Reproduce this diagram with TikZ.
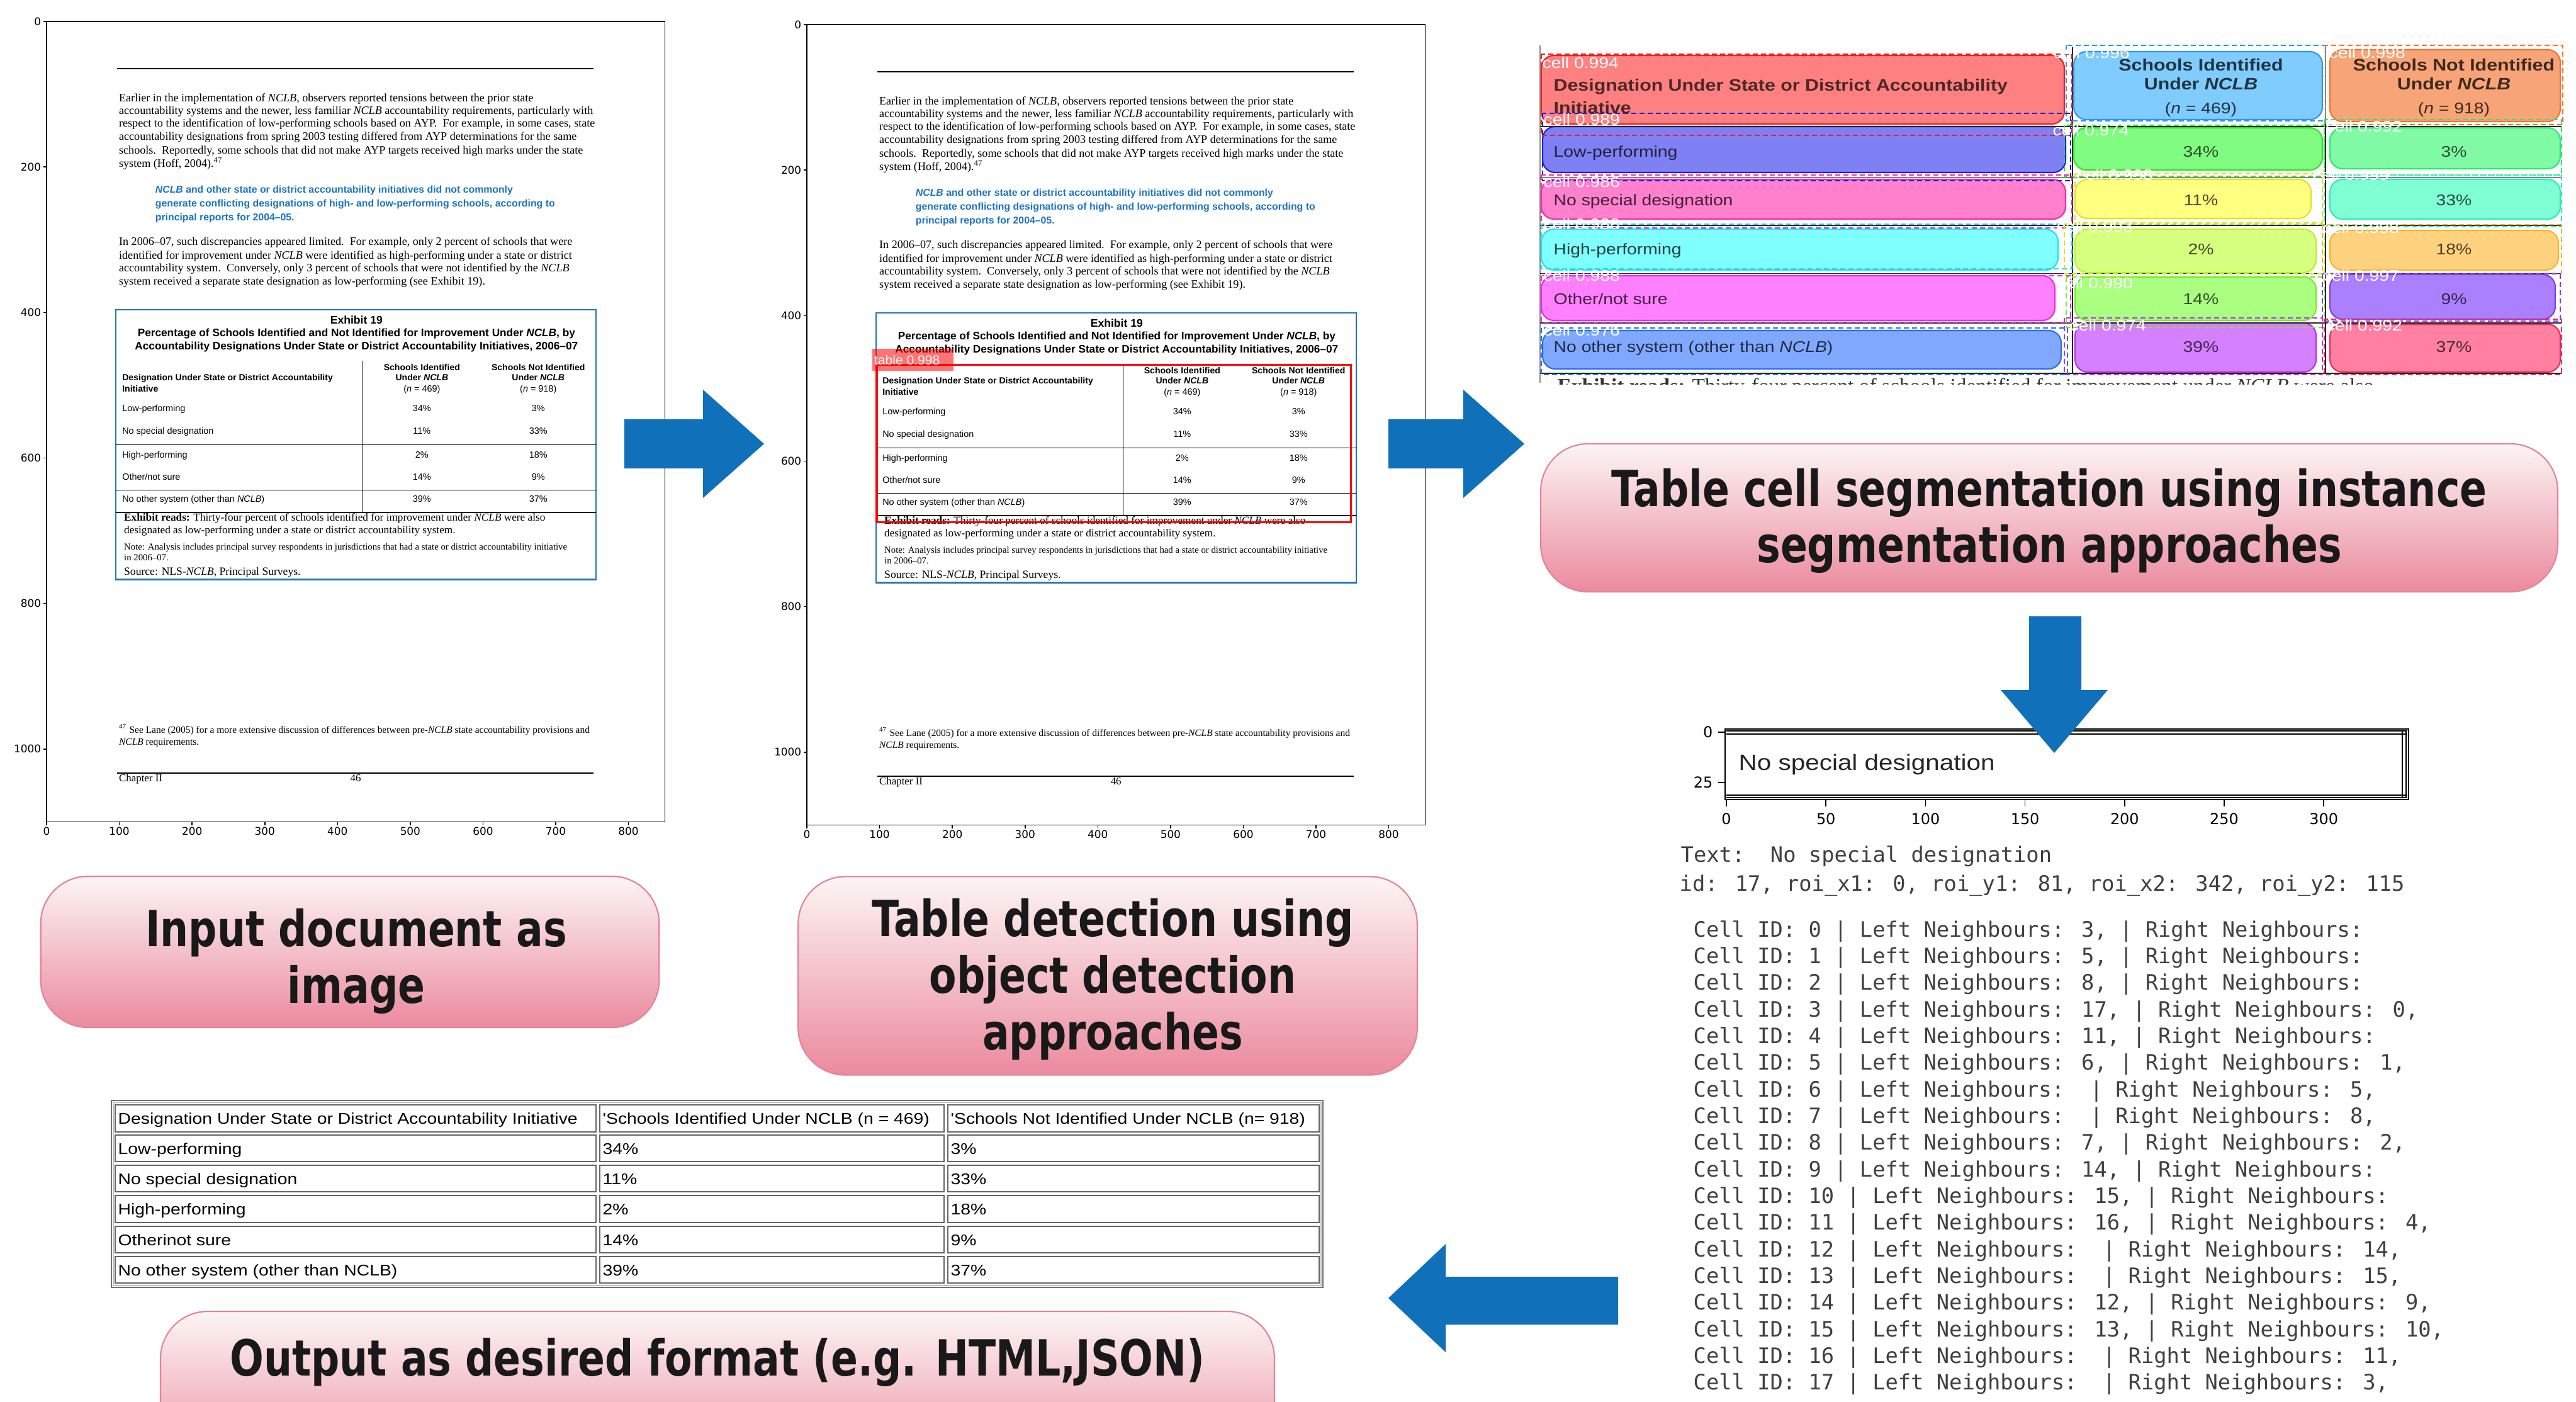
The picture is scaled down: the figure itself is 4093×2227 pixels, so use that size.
\documentclass[tikz,border=0pt]{standalone}
\usepackage{fontspec}
\setmainfont{Liberation Serif}
\newfontfamily\capfont[FakeStretch=0.80]{DejaVu Sans}
\newfontfamily\sansf{Liberation Sans}
\newfontfamily\wsans[FakeStretch=1.15]{Liberation Sans}
\newfontfamily\monof{DejaVu Sans Mono}
\newfontfamily\tickf{DejaVu Sans}
\definecolor{arrowblue}{RGB}{17,112,186}
\definecolor{capTop}{RGB}{252,245,244}
\definecolor{capBot}{RGB}{235,138,158}
\definecolor{capEdge}{RGB}{230,130,152}
\definecolor{exblue}{RGB}{36,118,184}
\definecolor{txtblue}{RGB}{28,117,196}
\definecolor{sHa}{RGB}{255,128,128} \definecolor{eHa}{RGB}{240,30,30}
\definecolor{sHb}{RGB}{128,204,255} \definecolor{eHb}{RGB}{40,150,255}
\definecolor{sHc}{RGB}{247,165,120} \definecolor{eHc}{RGB}{255,110,40}
\definecolor{sAa}{RGB}{128,128,245} \definecolor{eAa}{RGB}{30,30,230}
\definecolor{sAb}{RGB}{128,252,128} \definecolor{eAb}{RGB}{40,230,40}
\definecolor{sAc}{RGB}{128,250,165} \definecolor{eAc}{RGB}{40,235,110}
\definecolor{sBa}{RGB}{255,128,205} \definecolor{eBa}{RGB}{250,40,170}
\definecolor{sBb}{RGB}{255,255,128} \definecolor{eBb}{RGB}{225,225,30}
\definecolor{sBc}{RGB}{128,255,212} \definecolor{eBc}{RGB}{40,240,180}
\definecolor{sCa}{RGB}{128,255,255} \definecolor{eCa}{RGB}{30,225,240}
\definecolor{sCb}{RGB}{215,255,128} \definecolor{eCb}{RGB}{190,240,40}
\definecolor{sCc}{RGB}{255,210,128} \definecolor{eCc}{RGB}{250,180,40}
\definecolor{sDa}{RGB}{255,128,255} \definecolor{eDa}{RGB}{240,40,240}
\definecolor{sDb}{RGB}{170,255,128} \definecolor{eDb}{RGB}{120,235,40}
\definecolor{sDc}{RGB}{170,128,255} \definecolor{eDc}{RGB}{130,60,240}
\definecolor{sEa}{RGB}{128,168,255} \definecolor{eEa}{RGB}{40,110,240}
\definecolor{sEb}{RGB}{212,128,255} \definecolor{eEb}{RGB}{180,50,240}
\definecolor{sEc}{RGB}{255,128,160} \definecolor{eEc}{RGB}{240,40,90}
\tikzset{
  capbox/.style={draw=capEdge, line width=0.6pt, rounded corners=0.75cm, top color=capTop, bottom color=capBot, inner sep=0},
  captext/.style={anchor=base, inner sep=0, font=\capfont\bfseries\fontsize{22.5}{25.6}\selectfont, text=black!90},
  bigarrow/.style={fill=arrowblue, draw=none},
  axisline/.style={line width=0.45pt, black},
  ticklab/.style={inner sep=0, font=\tickf\fontsize{4.8}{5}\selectfont},
  pline/.style={anchor=base west, inner sep=0, font=\fontsize{5.15}{6}\selectfont},
  bline/.style={anchor=base west, inner sep=0, text=txtblue, font=\sansf\bfseries\fontsize{4.5}{5}\selectfont},
  exline/.style={anchor=base, inner sep=0, font=\sansf\bfseries\fontsize{4.9}{5}\selectfont},
  thead/.style={inner sep=0, font=\sansf\bfseries\fontsize{4}{5}\selectfont},
  tline/.style={inner sep=0, font=\sansf\fontsize{4.1}{5}\selectfont},
  nline/.style={anchor=base west, inner sep=0, font=\fontsize{4.9}{5}\selectfont},
  segr/.style={inner sep=0, font=\wsans\fontsize{7}{8}\selectfont},
  segb/.style={inner sep=0, font=\wsans\bfseries\fontsize{7.5}{9}\selectfont},
  seglab/.style={anchor=base west, inner sep=0, text=white, font=\wsans\fontsize{7}{8}\selectfont},
  ptick/.style={inner sep=0, font=\tickf\fontsize{6.8}{7}\selectfont},
  monoline/.style={anchor=base west, inner sep=0, text=black!75, font=\monof\fontsize{9.6}{11}\selectfont},
  tcell/.style={draw=black!60, line width=0.6pt},
  ttext/.style={anchor=base west, inner sep=0, font=\wsans\fontsize{7}{8}\selectfont},
}
\newcommand\docpage[1]{%
  \draw[axisline] (0,0) rectangle (850,1100);
  \foreach \tk in {0,100,...,800}{\draw[axisline] (\tk,1100) -- (\tk,1104.5); \node[ticklab,anchor=north] (#1x\tk) at (\tk,1107) {\tk};}
  \foreach \tk in {0,200,...,1000}{\draw[axisline] (0,\tk) -- (-4.5,\tk); \node[ticklab,anchor=east] (#1y\tk) at (-7,\tk) {\tk};}
  \draw[line width=0.4pt] (97,65) -- (752,65);
  \node[pline] (#1pa) at (99,110) {Earlier in the implementation of \textit{NCLB}, observers reported tensions between the prior state};
  \node[pline] (#1pb) at (99,128) {accountability systems and the newer, less familiar \textit{NCLB} accountability requirements, particularly with};
  \node[pline] (#1pc) at (99,145) {respect to the identification of low-performing schools based on AYP.\ \ For example, in some cases, state};
  \node[pline] (#1pd) at (99,163) {accountability designations from spring 2003 testing differed from AYP determinations for the same};
  \node[pline] (#1pe) at (99,182) {schools.\ \ Reportedly, some schools that did not make AYP targets received high marks under the state};
  \node[pline] (#1pf) at (99,200) {system (Hoff, 2004).\textsuperscript{47}};
  \node[bline] (#1ba) at (149,236) {\textit{NCLB} and other state or district accountability initiatives did not commonly};
  \node[bline] (#1bb) at (149,255) {generate conflicting designations of high- and low-performing schools, according to};
  \node[bline] (#1bc) at (149,274) {principal reports for 2004–05.};
  \node[pline] (#1qa) at (99,308) {In 2006–07, such discrepancies appeared limited.\ \ For example, only 2 percent of schools that were};
  \node[pline] (#1qb) at (99,327) {identified for improvement under \textit{NCLB} were identified as high-performing under a state or district};
  \node[pline] (#1qc) at (99,344) {accountability system.\ \ Conversely, only 3 percent of schools that were not identified by the \textit{NCLB}};
  \node[pline] (#1qd) at (99,362) {system received a separate state designation as low-performing (see Exhibit 19).};
  \draw[exblue, line width=0.6pt] (95.5,396) rectangle (755,767);
  \node[exline, font=\sansf\bfseries\fontsize{5}{5}\selectfont] (#1ea) at (426,416) {Exhibit 19};
  \node[exline] (#1eb) at (426,433) {Percentage of Schools Identified and Not Identified for Improvement Under \textit{NCLB}, by};
  \node[exline] (#1ec) at (426,451) {Accountability Designations Under State or District Accountability Initiatives, 2006–07};
  \draw[line width=0.35pt] (435,466) -- (435,675);
  \draw[line width=0.35pt] (95.5,582) -- (755,582);
  \draw[line width=0.35pt] (95.5,644) -- (755,644);
  \draw[line width=0.45pt] (95.5,675) -- (755,675);
  \node[thead,anchor=base west] (#1ha) at (103.5,494) {Designation Under State or District Accountability};
  \node[thead,anchor=base west] (#1hb) at (103.5,509) {Initiative};
  \node[thead,anchor=base] (#1hc) at (516,480) {Schools Identified};
  \node[thead,anchor=base] (#1hd) at (516,494) {Under \textit{NCLB}};
  \node[tline,anchor=base] (#1he) at (516,509) {(\textit{n} = 469)};
  \node[thead,anchor=base] (#1hf) at (676,480) {Schools Not Identified};
  \node[thead,anchor=base] (#1hg) at (676,494) {Under \textit{NCLB}};
  \node[tline,anchor=base] (#1hh) at (676,509) {(\textit{n} = 918)};
  \node[tline,anchor=base west] (#1ra) at (103.5,536) {Low-performing};
  \node[tline,anchor=base west] (#1rb) at (103.5,567) {No special designation};
  \node[tline,anchor=base west] (#1rc) at (103.5,600) {High-performing};
  \node[tline,anchor=base west] (#1rd) at (103.5,630) {Other/not sure};
  \node[tline,anchor=base west] (#1re) at (103.5,661) {No other system (other than \textit{NCLB})};
  \node[tline,anchor=base] (#1va) at (516,536) {34\%};
  \node[tline,anchor=base] (#1vb) at (516,567) {11\%};
  \node[tline,anchor=base] (#1vc) at (516,600) {2\%};
  \node[tline,anchor=base] (#1vd) at (516,630) {14\%};
  \node[tline,anchor=base] (#1ve) at (516,661) {39\%};
  \node[tline,anchor=base] (#1wa) at (676,536) {3\%};
  \node[tline,anchor=base] (#1wb) at (676,567) {33\%};
  \node[tline,anchor=base] (#1wc) at (676,600) {18\%};
  \node[tline,anchor=base] (#1wd) at (676,630) {9\%};
  \node[tline,anchor=base] (#1we) at (676,661) {37\%};
  \node[pline, font=\fontsize{4.9}{5}\selectfont] (#1xa) at (106,687) {\textbf{Exhibit reads:} Thirty-four percent of schools identified for improvement under \textit{NCLB} were also};
  \node[pline, font=\fontsize{4.9}{5}\selectfont] (#1xb) at (106,704) {designated as low-performing under a state or district accountability system.};
  \node[nline, font=\fontsize{4.2}{5}\selectfont] (#1xc) at (106,726) {Note: Analysis includes principal survey respondents in jurisdictions that had a state or district accountability initiative};
  \node[nline, font=\fontsize{4.2}{5}\selectfont] (#1xd) at (106,741) {in 2006–07.};
  \node[pline, font=\fontsize{5}{5}\selectfont] (#1xe) at (106,761) {Source: NLS-\textit{NCLB}, Principal Surveys.};
  \node[nline, font=\fontsize{4.4}{5}\selectfont] (#1fa) at (99,978) {\textsuperscript{47} See Lane (2005) for a more extensive discussion of differences between pre-\textit{NCLB} state accountability provisions and};
  \node[nline, font=\fontsize{4.4}{5}\selectfont] (#1fb) at (99,995) {\textit{NCLB} requirements.};
  \draw[line width=0.4pt] (97,1033) -- (752,1033);
  \node[pline, font=\fontsize{4.8}{5}\selectfont] (#1ch) at (99,1045) {Chapter II};
  \node[pline, font=\fontsize{4.8}{5}\selectfont, anchor=base] (#1pg) at (425,1045) {46};
}
\newcommand\segcell[5]{\filldraw[fill=s#5, draw=e#5, line width=0.6pt, rounded corners=0.2cm] (#1,#2) rectangle (#3,#4);}
\newcommand\segbox[5]{\draw[e#5, dash pattern=on 0.08cm off 0.05cm, line width=0.8pt] (#1,#2) rectangle (#3,#4);}
\begin{document}
\begin{tikzpicture}[x=0.01cm,y=-0.01cm]
\useasboundingbox (0,0) rectangle (4093,2227);
\fill[white] (0,0) rectangle (4093,2227);
% ---------- panel 1: input page ----------
\begin{scope}[shift={(74,34)},x=0.01155cm,y=-0.01155cm]
  \docpage{pa}
\end{scope}
% ---------- panel 2: detected table ----------
\begin{scope}[shift={(1282,39)},x=0.01155cm,y=-0.01155cm]
  \docpage{pb}
  \draw[red, line width=0.9pt] (96,468) rectangle (748,684);
  \fill[red, opacity=0.55] (90,446) rectangle (202,476);
  \node[anchor=west, inner sep=0, text=white, font=\sansf\fontsize{6}{7}\selectfont] (pbdet) at (92,461) {table 0.998};
\end{scope}
% ---------- panel 3: segmentation ----------
\draw[black!45, line width=0.4pt] (2447,72) -- (2447,608);
\segcell{2449}{88}{3280}{197}{Ha}
\segcell{3295}{82}{3690}{190}{Hb}
\segcell{3702}{79}{4068}{193}{Hc}
\segcell{2451}{201}{3282}{274}{Aa}
\segcell{3295}{203}{3690}{270}{Ab}
\segcell{3702}{203}{4068}{268}{Ac}
\segcell{2449}{285}{3282}{348}{Ba}
\segcell{3297}{285}{3672}{347}{Bb}
\segcell{3702}{285}{4068}{348}{Bc}
\segcell{2449}{364}{3270}{429}{Ca}
\segcell{3297}{364}{3680}{433}{Cb}
\segcell{3702}{366}{4065}{429}{Cc}
\segcell{2449}{438}{3265}{509}{Da}
\segcell{3297}{440}{3680}{509}{Db}
\segcell{3702}{436}{4060}{507}{Dc}
\segcell{2451}{525}{3275}{586}{Ea}
\segcell{3297}{513}{3680}{591}{Eb}
\segcell{3702}{515}{4068}{591}{Ec}
\foreach \yy in {201,281.5,358,434.6,513,592.7} \draw[black!85, line width=0.5pt] (2447,\yy) -- (4070,\yy);
\foreach \xx in {3293,3695} \draw[black!85, line width=0.5pt] (\xx,75) -- (\xx,593);
\segbox{2449}{86}{3292}{215}{Ha}
\segbox{3283}{72}{3695}{192}{Hb}
\segbox{3695}{72}{4072}{198}{Hc}
\segbox{2451}{180}{3290}{287}{Aa}
\segbox{3280}{199}{3693}{280}{Ab}
\segbox{3693}{190}{4070}{278}{Ac}
\segbox{2449}{278}{3292}{362}{Ba}
\segbox{3297}{276}{3690}{354}{Bb}
\segbox{3693}{278}{4070}{360}{Bc}
\segbox{2449}{356}{3292}{427}{Ca}
\segbox{3280}{356}{3693}{435}{Cb}
\segbox{3690}{357}{4070}{434}{Cc}
\segbox{2449}{438}{3290}{512}{Da}
\segbox{3283}{440}{3693}{520}{Db}
\segbox{3690}{435}{4068}{510}{Dc}
\segbox{2449}{521}{3285}{595}{Ea}
\segbox{3280}{505}{3690}{595}{Eb}
\segbox{3693}{507}{4070}{595}{Ec}
\node[segb, anchor=base west, text=sHa!30!black] (sga1) at (2468,144) {Designation Under State or District Accountability};
\node[segb, anchor=base west, text=sHa!30!black] (sga2) at (2468,180) {Initiative};
\node[segb, anchor=base, text=sHb!25!black] (sgb1) at (3497,112) {Schools Identified};
\node[segb, anchor=base, text=sHb!25!black] (sgb2) at (3497,143) {Under \textit{NCLB}};
\node[segr, anchor=base, text=sHb!25!black] (sgb3) at (3497,180) {(\textit{n} = 469)};
\node[segb, anchor=base, text=sHc!25!black] (sgc1) at (3899,112) {Schools Not Identified};
\node[segb, anchor=base, text=sHc!25!black] (sgc2) at (3899,143) {Under \textit{NCLB}};
\node[segr, anchor=base, text=sHc!25!black] (sgc3) at (3899,180) {(\textit{n} = 918)};
\node[segr, anchor=base west, text=sAa!25!black] (sgr1) at (2468,249) {Low-performing};
\node[segr, anchor=base west, text=sBa!25!black] (sgr2) at (2468,326) {No special designation};
\node[segr, anchor=base west, text=sCa!25!black] (sgr3) at (2468,404) {High-performing};
\node[segr, anchor=base west, text=sDa!25!black] (sgr4) at (2468,483) {Other/not sure};
\node[segr, anchor=base west, text=sEa!25!black] (sgr5) at (2468,559) {No other system (other than \textit{NCLB})};
\node[segr, anchor=base, text=sAb!30!black] (sgv1) at (3497,249) {34\%};
\node[segr, anchor=base, text=sBb!30!black] (sgv2) at (3497,326) {11\%};
\node[segr, anchor=base, text=sCb!30!black] (sgv3) at (3497,404) {2\%};
\node[segr, anchor=base, text=sDb!30!black] (sgv4) at (3497,483) {14\%};
\node[segr, anchor=base, text=sEb!30!black] (sgv5) at (3497,559) {39\%};
\node[segr, anchor=base, text=sAc!30!black] (sgw1) at (3899,249) {3\%};
\node[segr, anchor=base, text=sBc!30!black] (sgw2) at (3899,326) {33\%};
\node[segr, anchor=base, text=sCc!30!black] (sgw3) at (3899,404) {18\%};
\node[segr, anchor=base, text=sDc!30!black] (sgw4) at (3899,483) {9\%};
\node[segr, anchor=base, text=sEc!30!black] (sgw5) at (3899,559) {37\%};
\node[seglab] (lb1) at (2450,108) {cell 0.994};
\node[seglab] (lb2) at (3262,92) {cell 0.996};
\node[seglab] (lb3) at (3700,92) {cell 0.998};
\node[seglab] (lb4) at (2452,198) {cell 0.989};
\node[seglab] (lb5) at (3261,215) {cell 0.974};
\node[seglab] (lb6) at (3695,209) {cell 0.992};
\node[seglab] (lb7) at (2452,297) {cell 0.986};
\node[seglab] (lb8) at (3299,286) {cell 0.998};
\node[seglab] (lb9) at (3674,286) {cell 0.999};
\node[seglab] (lb10) at (2452,364) {cell 0.988};
\node[seglab] (lb11) at (3267,368) {cell 0.993};
\node[seglab] (lb12) at (3690,370) {cell 0.998};
\node[seglab] (lb13) at (2452,446) {cell 0.988};
\node[seglab] (lb14) at (3267,458) {cell 0.990};
\node[seglab] (lb15) at (3690,446) {cell 0.997};
\node[seglab] (lb16) at (2452,533) {cell 0.976};
\node[seglab] (lb17) at (3288,525) {cell 0.974};
\node[seglab] (lb18) at (3695,525) {cell 0.992};
\begin{scope}
  \clip (2447,594) rectangle (4070,610);
  \node[anchor=base west, inner sep=0, text=black!80, font=\fontsize{9.5}{10}\selectfont] (sgfoot) at (2474,624) {\textbf{Exhibit reads:} Thirty-four percent of schools identified for improvement under \textit{NCLB} were also};
\end{scope}
% ---------- panel 4: cell crop + neighbours ----------
\draw[axisline] (2741,1158) rectangle (3827,1270);
\draw[line width=0.6pt] (2743,1161) -- (3825,1161);
\draw[line width=0.6pt] (2743,1166) -- (3825,1166);
\draw[line width=0.6pt] (2743,1263) -- (3825,1263);
\draw[line width=0.6pt] (2743,1267) -- (3825,1267);
\draw[line width=0.6pt] (3817,1160) -- (3817,1268);
\draw[line width=0.6pt] (3823,1160) -- (3823,1268);
\node[anchor=base west, inner sep=0, font=\wsans\fontsize{10}{12}\selectfont, text=black!85] (psd) at (2762,1223) {No special designation};
\foreach \k in {0,...,6}{
  \pgfmathsetmacro\xx{2743+158.2*\k}
  \pgfmathtruncatemacro\lab{50*\k}
  \draw[axisline] (\xx,1270) -- (\xx,1281);
  \node[ptick, anchor=north] (ptx\k) at (\xx,1291) {\lab};
}
\draw[axisline] (2741,1163) -- (2730,1163);
\draw[axisline] (2741,1243) -- (2730,1243);
\node[ptick, anchor=east] (pty0) at (2722,1163) {0};
\node[ptick, anchor=east] (pty25) at (2722,1243) {25};
\node[monoline] (mt1) at (2670,1369) {Text:\ \ No special designation};
\node[monoline] (mt2) at (2668,1415) {id: 17, roi\_x1: 0, roi\_y1: 81, roi\_x2: 342, roi\_y2: 115};
\node[monoline] (cl0) at (2690,1488) {Cell ID: 0 | Left Neighbours: 3, | Right Neighbours:};
\node[monoline] (cl1) at (2690,1530.35) {Cell ID: 1 | Left Neighbours: 5, | Right Neighbours:};
\node[monoline] (cl2) at (2690,1572.7) {Cell ID: 2 | Left Neighbours: 8, | Right Neighbours:};
\node[monoline] (cl3) at (2690,1615.05) {Cell ID: 3 | Left Neighbours: 17, | Right Neighbours: 0,};
\node[monoline] (cl4) at (2690,1657.4) {Cell ID: 4 | Left Neighbours: 11, | Right Neighbours:};
\node[monoline] (cl5) at (2690,1699.75) {Cell ID: 5 | Left Neighbours: 6, | Right Neighbours: 1,};
\node[monoline] (cl6) at (2690,1742.1) {Cell ID: 6 | Left Neighbours:\ \ | Right Neighbours: 5,};
\node[monoline] (cl7) at (2690,1784.45) {Cell ID: 7 | Left Neighbours:\ \ | Right Neighbours: 8,};
\node[monoline] (cl8) at (2690,1826.8) {Cell ID: 8 | Left Neighbours: 7, | Right Neighbours: 2,};
\node[monoline] (cl9) at (2690,1869.15) {Cell ID: 9 | Left Neighbours: 14, | Right Neighbours:};
\node[monoline] (cl10) at (2690,1911.5) {Cell ID: 10 | Left Neighbours: 15, | Right Neighbours:};
\node[monoline] (cl11) at (2690,1953.85) {Cell ID: 11 | Left Neighbours: 16, | Right Neighbours: 4,};
\node[monoline] (cl12) at (2690,1996.2) {Cell ID: 12 | Left Neighbours:\ \ | Right Neighbours: 14,};
\node[monoline] (cl13) at (2690,2038.55) {Cell ID: 13 | Left Neighbours:\ \ | Right Neighbours: 15,};
\node[monoline] (cl14) at (2690,2080.9) {Cell ID: 14 | Left Neighbours: 12, | Right Neighbours: 9,};
\node[monoline] (cl15) at (2690,2123.25) {Cell ID: 15 | Left Neighbours: 13, | Right Neighbours: 10,};
\node[monoline] (cl16) at (2690,2165.6) {Cell ID: 16 | Left Neighbours:\ \ | Right Neighbours: 11,};
\node[monoline] (cl17) at (2690,2207.95) {Cell ID: 17 | Left Neighbours:\ \ | Right Neighbours: 3,};
% ---------- panel 5: output table ----------
\draw[black!55, line width=0.8pt] (177,1748) rectangle (2102,2045);
\draw[black!25, line width=0.5pt] (180,1751) rectangle (2099,2042);
\foreach \ya/\yb in {1755/1798,1803/1845,1851/1893,1899/1942,1948/1990,1996/2038}{
  \foreach \xa/\xb in {183/947,953/1500,1506/2096}{
    \draw[tcell] (\xa,\ya) rectangle (\xb,\yb);
  }
}
\node[ttext] (oa1) at (187,1785) {Designation Under State or District Accountability Initiative};
\node[ttext] (ob1) at (957,1785) {'Schools Identified Under NCLB (n = 469)};
\node[ttext] (oc1) at (1510,1785) {'Schools Not Identified Under NCLB (n= 918)};
\node[ttext] (oa2) at (187,1833) {Low-performing};
\node[ttext] (ob2) at (957,1833) {34\%};
\node[ttext] (oc2) at (1510,1833) {3\%};
\node[ttext] (oa3) at (187,1881) {No special designation};
\node[ttext] (ob3) at (957,1881) {11\%};
\node[ttext] (oc3) at (1510,1881) {33\%};
\node[ttext] (oa4) at (187,1929) {High-performing};
\node[ttext] (ob4) at (957,1929) {2\%};
\node[ttext] (oc4) at (1510,1929) {18\%};
\node[ttext] (oa5) at (187,1978) {Otherinot sure};
\node[ttext] (ob5) at (957,1978) {14\%};
\node[ttext] (oc5) at (1510,1978) {9\%};
\node[ttext] (oa6) at (187,2026) {No other system (other than NCLB)};
\node[ttext] (ob6) at (957,2026) {39\%};
\node[ttext] (oc6) at (1510,2026) {37\%};
% ---------- captions ----------
\node[capbox, minimum width=9.82cm, minimum height=2.40cm] (cap1) at (556,1512) {};
\node[captext] (cap1a) at (566,1503) {Input document as};
\node[captext] (cap1b) at (566,1593) {image};
\node[capbox, minimum width=9.83cm, minimum height=3.15cm] (cap2) at (1760,1550) {};
\node[captext] (cap2a) at (1768,1487) {Table detection using};
\node[captext] (cap2b) at (1768,1577) {object detection};
\node[captext] (cap2c) at (1768,1667) {approaches};
\node[capbox, minimum width=16.15cm, minimum height=2.35cm] (cap3) at (3256,822.5) {};
\node[captext] (cap3a) at (3256,804) {Table cell segmentation using instance};
\node[captext] (cap3b) at (3256,893) {segmentation approaches};
\node[capbox, minimum width=17.69cm, minimum height=2.6cm, anchor=north] (cap4) at (1140,2082) {};
\node[captext] (cap4a) at (1140,2185) {Output as desired format (e.g. HTML,JSON)};
% ---------- arrows ----------
\fill[bigarrow] (992,666) -- (1117,666) -- (1117,619) -- (1214,705) -- (1117,791) -- (1117,744) -- (992,744) -- cycle;
\fill[bigarrow] (2206,666) -- (2325,666) -- (2325,619) -- (2422,705) -- (2325,791) -- (2325,744) -- (2206,744) -- cycle;
\fill[bigarrow] (3224,979) -- (3307,979) -- (3307,1096) -- (3349,1096) -- (3264,1196) -- (3179,1096) -- (3224,1096) -- cycle;
\fill[bigarrow] (2571,2028) -- (2297,2028) -- (2297,1976) -- (2206,2062) -- (2297,2148) -- (2297,2104) -- (2571,2104) -- cycle;
\end{tikzpicture}
\end{document}
